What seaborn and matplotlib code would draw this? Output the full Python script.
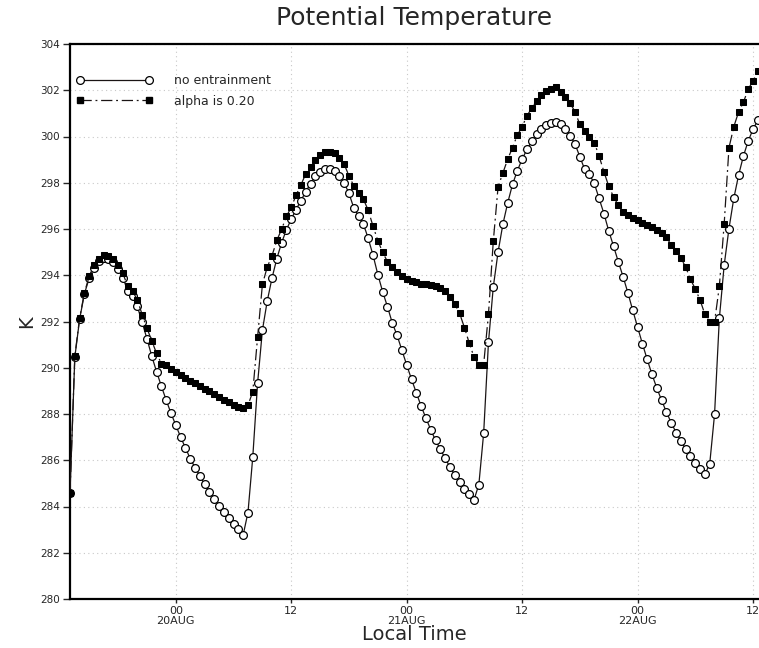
import numpy as np
import pandas as pd
import matplotlib
matplotlib.use("Agg")
import matplotlib.pyplot as plt
from matplotlib.lines import Line2D
import seaborn as sns

# ---- data (half-hourly, hours relative to 20AUG 00 local time) ----
start_hour = -11.0
step_hour = 0.5

no_entrainment = [
    284.6, 290.45, 292.1, 293.2, 293.88, 294.32, 294.62, 294.75, 294.72, 294.58,
    294.29, 293.9, 293.32, 293.1, 292.65, 291.97, 291.25, 290.5, 289.83, 289.2,
    288.6, 288.03, 287.52, 287.0, 286.53, 286.07, 285.68, 285.33, 284.96, 284.62,
    284.33, 284.03, 283.77, 283.51, 283.26, 283.03, 282.77, 283.74, 286.14, 289.33,
    291.62, 292.88, 293.88, 294.72, 295.41, 295.97, 296.43, 296.84, 297.23, 297.61,
    297.96, 298.28, 298.48, 298.59, 298.61, 298.52, 298.3, 298.0, 297.54, 296.91,
    296.57, 296.22, 295.59, 294.87, 294.03, 293.29, 292.64, 291.94, 291.4, 290.76,
    290.12, 289.5, 288.92, 288.34, 287.82, 287.32, 286.86, 286.47, 286.08, 285.7,
    285.37, 285.05, 284.75, 284.52, 284.29, 284.95, 287.17, 291.1, 293.49, 295.01,
    296.21, 297.13, 297.93, 298.52, 299.02, 299.44, 299.8, 300.09, 300.32, 300.49,
    300.59, 300.62, 300.52, 300.32, 300.03, 299.67, 299.12, 298.58, 298.36, 297.97,
    297.32, 296.67, 295.92, 295.26, 294.58, 293.93, 293.23, 292.48, 291.76, 291.04,
    290.36, 289.71, 289.12, 288.59, 288.08, 287.62, 287.2, 286.84, 286.48, 286.18,
    285.87, 285.61, 285.39, 285.85, 287.98, 292.13, 294.43, 296.02, 297.32, 298.33,
    299.15, 299.81, 300.31, 300.71,
]

alpha_020 = [
    284.6, 290.5, 292.15, 293.25, 293.96, 294.46, 294.72, 294.86, 294.84, 294.7,
    294.45, 294.08, 293.52, 293.32, 292.93, 292.3, 291.71, 291.16, 290.62, 290.18,
    290.1, 289.96, 289.8, 289.67, 289.55, 289.43, 289.32, 289.22, 289.1, 288.99,
    288.87, 288.75, 288.62, 288.52, 288.41, 288.3, 288.26, 288.38, 288.96, 291.32,
    293.6, 294.35, 294.85, 295.51, 295.99, 296.55, 296.94, 297.46, 297.9, 298.38,
    298.67, 298.97, 299.2, 299.33, 299.33, 299.3, 299.06, 298.8, 298.3, 297.86,
    297.54, 297.29, 296.81, 296.12, 295.5, 294.99, 294.59, 294.34, 294.13, 293.98,
    293.85, 293.75, 293.69, 293.64, 293.62, 293.59, 293.53, 293.45, 293.3, 293.05,
    292.75, 292.35, 291.74, 291.07, 290.46, 290.12, 290.14, 292.32, 295.46, 297.83,
    298.43, 299.02, 299.52, 300.06, 300.42, 300.9, 301.22, 301.55, 301.79, 301.98,
    302.04, 302.13, 301.91, 301.72, 301.43, 301.07, 300.52, 300.23, 299.99, 299.74,
    299.15, 298.48, 297.85, 297.39, 297.03, 296.74, 296.6, 296.46, 296.38, 296.27,
    296.17, 296.07, 295.94, 295.83, 295.66, 295.3, 295.06, 294.73, 294.36, 293.82,
    293.41, 292.92, 292.31, 291.98, 291.98, 293.52, 296.21, 299.51, 300.42, 301.06,
    301.48, 302.05, 302.4, 302.84,
]

series_labels = ["no entrainment", "alpha is 0.20"]
xtick_hours = [0, 12, 24, 36, 48, 60]
xtick_labels = ["00\n20AUG", "12", "00\n21AUG", "12", "00\n22AUG", "12"]
ytick_values = list(range(280, 305, 2))

hours = start_hour + step_hour * np.arange(len(no_entrainment))
df = pd.DataFrame({"hour": hours, "no_ent": no_entrainment, "alpha": alpha_020})

# ---- figure ----
sns.set_style("white")
plt.rcParams["font.family"] = ["DejaVu Sans"]

W, H = 759, 648
fig = plt.figure(figsize=(W / 100, H / 100), dpi=100)
ax_left, ax_bottom, ax_top = 70, 599, 44
x0, x1 = -11.0, 61.0
px_per_hour = 9.62
ax_w = (x1 - x0) * px_per_hour
ax = fig.add_axes([ax_left / W, (H - ax_bottom) / H, ax_w / W, (ax_bottom - ax_top) / H])

line_col = "#1a1414"
dashdot = (0, (9, 3, 1.5, 3))
sns.lineplot(data=df, x="hour", y="no_ent", ax=ax, color=line_col, linewidth=0.9,
             marker="o", markersize=5.6, markerfacecolor="white",
             markeredgecolor="black", markeredgewidth=0.9, zorder=3)
sns.lineplot(data=df, x="hour", y="alpha", ax=ax, color=line_col, linewidth=0.9,
             linestyle=dashdot, marker="s", markersize=4.8,
             markerfacecolor="black", markeredgecolor="black", zorder=4)

ax.set_xlim(x0, x1)
ax.set_ylim(280, 304)
ax.set_xticks(xtick_hours)
ax.set_xticklabels(xtick_labels, fontsize=8, linespacing=1.0)
ax.set_yticks(ytick_values)
ax.set_yticklabels([str(v) for v in ytick_values], fontsize=7.5)
ax.tick_params(axis="y", direction="out", length=5, width=1, pad=2, left=True)
ax.tick_params(axis="x", direction="out", length=3, width=1, pad=2, bottom=True)
ax.set_xlabel("")
ax.set_ylabel("")

ax.grid(True, linestyle=(0, (1, 3)), color="#c8c8c8", linewidth=0.8)
ax.set_axisbelow(True)
for s in ["top", "left", "bottom"]:
    ax.spines[s].set_visible(True)
    ax.spines[s].set_linewidth(1.6)
    ax.spines[s].set_color("black")
ax.spines["right"].set_visible(False)

handles = [
    Line2D([0], [0], color=line_col, linewidth=0.9, marker="o", markersize=5.6,
           markerfacecolor="white", markeredgecolor="black", markeredgewidth=0.9),
    Line2D([0], [0], color=line_col, linewidth=0.9, linestyle=dashdot,
           marker="s", markersize=4.8, markerfacecolor="black", markeredgecolor="black"),
]
ax.legend(handles, series_labels, loc="upper left",
          bbox_to_anchor=((76 - ax_left) / ax_w, (ax_bottom - 74) / (ax_bottom - ax_top)),
          frameon=False, numpoints=2, handlelength=6.1, handletextpad=1.7,
          labelspacing=0.6, fontsize=9, borderpad=0, borderaxespad=0)

fig.text(414 / W, 1 - 18 / H, "Potential Temperature", ha="center", va="center", fontsize=18)
fig.text(414 / W, 1 - 635 / H, "Local Time", ha="center", va="center", fontsize=14)
fig.text(27 / W, 1 - 322 / H, "K", ha="center", va="center", fontsize=14, rotation=90)

fig.savefig("out.png", dpi=100)
